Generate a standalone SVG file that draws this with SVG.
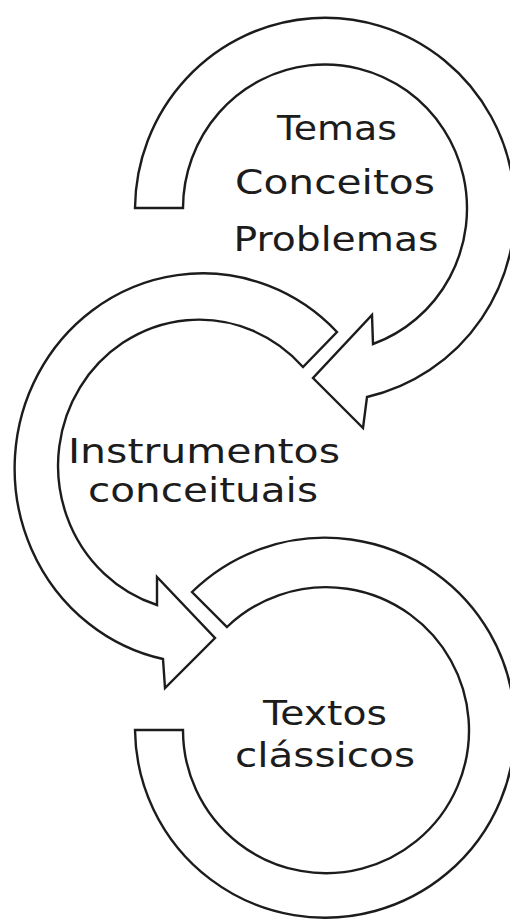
<svg xmlns="http://www.w3.org/2000/svg" width="510" height="921" viewBox="0 0 510 921">
<style>
.arr{fill:#ffffff;stroke:#1c1c1c;stroke-width:2.4;stroke-linejoin:miter}
.lbl{font-family:"DejaVu Sans","Liberation Sans",sans-serif;font-size:34px;fill:#1c1c1c;text-anchor:middle}
</style>
<rect width="510" height="921" fill="#ffffff"/>
<g id="connectors">
<path id="arrow1" class="arr" d="M135,208 A190,192 0 1 1 367,397 L363,428 L313,378 L372,315 L373,344 A142,144 0 1 0 183,208 Z"/>
<path id="arrow2" class="arr" d="M337,332 A188,195 0 1 0 163,659 L165,688 L215,638 L157,577 L157,605 A141,146 0 1 1 303,367 Z"/>
<path id="arrow3" class="arr" d="M192,592 A190,190 0 1 1 135,730 L183,730 A143,143 0 1 0 227,627 Z"/>
</g>
<g id="node1">
<text class="lbl" x="337" y="140" textLength="120" lengthAdjust="spacingAndGlyphs">Temas</text>
<text class="lbl" x="335" y="194" textLength="200" lengthAdjust="spacingAndGlyphs">Conceitos</text>
<text class="lbl" x="336" y="251" textLength="205" lengthAdjust="spacingAndGlyphs">Problemas</text>
</g>
<g id="node2">
<text class="lbl" x="204" y="463" textLength="272" lengthAdjust="spacingAndGlyphs">Instrumentos</text>
<text class="lbl" x="203" y="502" textLength="230" lengthAdjust="spacingAndGlyphs">conceituais</text>
</g>
<g id="node3">
<text class="lbl" x="325" y="725" textLength="124" lengthAdjust="spacingAndGlyphs">Textos</text>
<text class="lbl" x="325" y="767" textLength="180" lengthAdjust="spacingAndGlyphs">clássicos</text>
</g>
</svg>
